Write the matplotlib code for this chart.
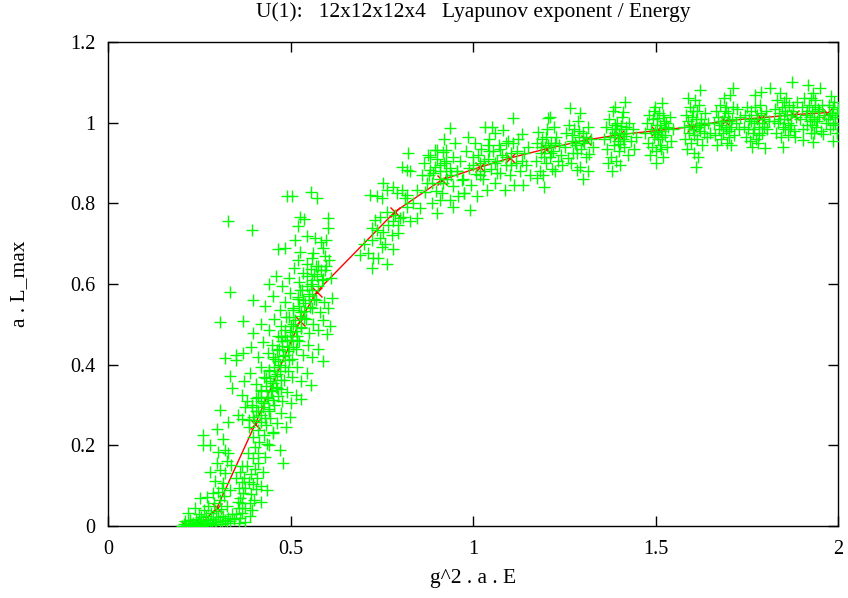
import matplotlib
matplotlib.use("Agg")
import matplotlib.pyplot as plt

plt.rcParams["font.family"] = ["Liberation Serif", "DejaVu Serif"]

TITLE = "U(1):   12x12x12x4   Lyapunov exponent / Energy"
X_LABEL = "g^2 . a . E"
Y_LABEL = "a . L_max"

x_ticks = [0, 0.5, 1, 1.5, 2]
x_tick_labels = ["0", "0.5", "1", "1.5", "2"]
y_ticks = [0, 0.2, 0.4, 0.6, 0.8, 1.0, 1.2]
y_tick_labels = ["0", "0.2", "0.4", "0.6", "0.8", "1", "1.2"]

# averaged curve (red)
line_x = [0.215, 0.255, 0.298, 0.403, 0.526, 0.572, 0.786, 0.914, 1.02, 1.10,
          1.20, 1.31, 1.40, 1.50, 1.60, 1.69, 1.79, 1.88, 1.97]
line_y = [0.0, 0.006, 0.044, 0.252, 0.508, 0.581, 0.779, 0.858, 0.89, 0.912,
          0.935, 0.957, 0.97, 0.98, 0.99, 1.005, 1.012, 1.02, 1.025]

# single runs (green)
base_pts = [
    (0.203, 0.000), (0.208, 0.004), (0.214, 0.001), (0.219, 0.006), (0.224, 0.002),
    (0.229, 0.000), (0.233, 0.008), (0.238, 0.003), (0.243, 0.001), (0.247, 0.010),
    (0.252, 0.004), (0.257, 0.000), (0.261, 0.012), (0.266, 0.006), (0.270, 0.002),
    (0.275, 0.015), (0.279, 0.008), (0.284, 0.003), (0.288, 0.018), (0.293, 0.010),
    (0.297, 0.004), (0.302, 0.022), (0.306, 0.013), (0.311, 0.006), (0.316, 0.026),
    (0.320, 0.015), (0.325, 0.008), (0.330, 0.020), (0.335, 0.012), (0.340, 0.030),
    (0.345, 0.018), (0.212, 0.012), (0.226, 0.015), (0.240, 0.018), (0.254, 0.022),
    (0.268, 0.026), (0.282, 0.032), (0.296, 0.038), (0.310, 0.042), (0.250, 0.030),
    (0.262, 0.040), (0.275, 0.050), (0.290, 0.058),
]
left_pts = [
    (0.220, 0.032), (0.238, 0.044), (0.252, 0.069), (0.270, 0.073), (0.288, 0.081),
    (0.307, 0.064), (0.334, 0.089), (0.293, 0.111), (0.316, 0.106), (0.279, 0.135),
    (0.307, 0.139), (0.320, 0.131), (0.298, 0.155), (0.325, 0.160), (0.338, 0.151),
    (0.352, 0.118), (0.302, 0.184), (0.320, 0.188), (0.261, 0.201), (0.279, 0.201),
    (0.261, 0.226), (0.298, 0.240), (0.315, 0.215), (0.330, 0.182), (0.300, 0.085),
    (0.318, 0.075), (0.325, 0.050), (0.312, 0.095),
]
column_pts = [
    (0.358, 0.008), (0.362, 0.020), (0.366, 0.032), (0.360, 0.045), (0.368, 0.058),
    (0.363, 0.070), (0.370, 0.083), (0.359, 0.095), (0.366, 0.108), (0.372, 0.120),
    (0.362, 0.133), (0.368, 0.150), (0.355, 0.060), (0.352, 0.030), (0.374, 0.010),
    (0.376, 0.045), (0.374, 0.095),
    (0.390, 0.024), (0.395, 0.040), (0.388, 0.058), (0.400, 0.065), (0.393, 0.080),
    (0.405, 0.092), (0.396, 0.105), (0.408, 0.118), (0.392, 0.130), (0.402, 0.142),
    (0.410, 0.155), (0.397, 0.168), (0.412, 0.180), (0.404, 0.195), (0.415, 0.208),
    (0.398, 0.220), (0.420, 0.100), (0.425, 0.135), (0.418, 0.060), (0.430, 0.170),
    (0.435, 0.090), (0.440, 0.200), (0.428, 0.225), (0.383, 0.180), (0.380, 0.150),
    (0.385, 0.110), (0.471, 0.188), (0.480, 0.155), (0.435, 0.204), (0.453, 0.230),
]
band_pts = [
    (0.330, 0.258), (0.357, 0.275), (0.375, 0.296), (0.368, 0.265), (0.385, 0.245),
    (0.400, 0.262), (0.412, 0.238), (0.420, 0.275), (0.432, 0.250), (0.445, 0.268),
    (0.452, 0.232), (0.463, 0.255), (0.475, 0.280), (0.488, 0.246), (0.498, 0.270),
    (0.440, 0.290), (0.405, 0.285),
    (0.307, 0.287), (0.339, 0.341), (0.368, 0.325), (0.380, 0.310), (0.395, 0.300),
    (0.410, 0.320), (0.418, 0.335), (0.428, 0.305), (0.437, 0.318), (0.448, 0.338),
    (0.455, 0.300), (0.466, 0.322), (0.478, 0.310), (0.490, 0.332), (0.502, 0.305),
    (0.515, 0.325), (0.530, 0.315), (0.460, 0.345),
    (0.334, 0.372), (0.352, 0.412), (0.320, 0.416), (0.352, 0.424), (0.372, 0.360),
    (0.388, 0.380), (0.405, 0.352), (0.420, 0.395), (0.432, 0.368), (0.442, 0.385),
    (0.452, 0.355), (0.462, 0.378), (0.472, 0.398), (0.482, 0.362), (0.492, 0.385),
    (0.505, 0.370), (0.518, 0.395), (0.530, 0.360), (0.545, 0.380), (0.555, 0.350),
    (0.475, 0.340),
    (0.371, 0.430), (0.392, 0.445), (0.410, 0.420), (0.425, 0.455), (0.438, 0.428),
    (0.448, 0.448), (0.458, 0.415), (0.468, 0.440), (0.478, 0.458), (0.486, 0.425),
    (0.495, 0.445), (0.505, 0.415), (0.514, 0.438), (0.524, 0.458), (0.535, 0.425),
    (0.548, 0.448), (0.560, 0.418), (0.575, 0.440), (0.590, 0.410), (0.500, 0.460),
]
band_core_pts = [
    (0.385, 0.262), (0.398, 0.270), (0.418, 0.259), (0.430, 0.268),
    (0.395, 0.294), (0.410, 0.286), (0.425, 0.296), (0.442, 0.284),
    (0.405, 0.318), (0.420, 0.310), (0.436, 0.321), (0.452, 0.312),
    (0.418, 0.336), (0.432, 0.346), (0.447, 0.334), (0.463, 0.343),
    (0.428, 0.369), (0.445, 0.360), (0.458, 0.371), (0.474, 0.362),
    (0.440, 0.386), (0.455, 0.395), (0.470, 0.384), (0.486, 0.394),
    (0.452, 0.419), (0.466, 0.410), (0.480, 0.421), (0.496, 0.412),
    (0.462, 0.436), (0.478, 0.446), (0.492, 0.434), (0.508, 0.444),
    (0.474, 0.469), (0.490, 0.460), (0.503, 0.471), (0.519, 0.462),
    (0.486, 0.486), (0.500, 0.495), (0.515, 0.484), (0.530, 0.494),
    (0.496, 0.519), (0.512, 0.510), (0.527, 0.521), (0.542, 0.512),
    (0.508, 0.536), (0.523, 0.545), (0.538, 0.534), (0.553, 0.544),
    (0.520, 0.569), (0.535, 0.560), (0.550, 0.571), (0.565, 0.562),
    (0.532, 0.586), (0.546, 0.595), (0.560, 0.584), (0.576, 0.594),
    (0.545, 0.619), (0.558, 0.610), (0.572, 0.621), (0.588, 0.612),
    (0.556, 0.636), (0.570, 0.645), (0.584, 0.634), (0.598, 0.644),
]
upper_pts = [
    (0.307, 0.507), (0.371, 0.508), (0.398, 0.478), (0.420, 0.500), (0.440, 0.485),
    (0.455, 0.512), (0.465, 0.472), (0.475, 0.495), (0.488, 0.518), (0.498, 0.480),
    (0.508, 0.502), (0.518, 0.470), (0.528, 0.492), (0.538, 0.515), (0.550, 0.478),
    (0.562, 0.500), (0.575, 0.485), (0.588, 0.510), (0.600, 0.475), (0.608, 0.495),
    (0.485, 0.470),
    (0.334, 0.581), (0.398, 0.560), (0.430, 0.545), (0.452, 0.570), (0.470, 0.535),
    (0.485, 0.555), (0.498, 0.578), (0.508, 0.540), (0.520, 0.562), (0.530, 0.530),
    (0.540, 0.552), (0.550, 0.575), (0.560, 0.540), (0.570, 0.560), (0.580, 0.530),
    (0.592, 0.555), (0.604, 0.540), (0.615, 0.565), (0.525, 0.585),
    (0.440, 0.600), (0.460, 0.620), (0.478, 0.595), (0.495, 0.615), (0.510, 0.640),
    (0.522, 0.605), (0.535, 0.628), (0.545, 0.650), (0.555, 0.600), (0.565, 0.625),
    (0.575, 0.645), (0.585, 0.610), (0.595, 0.635), (0.605, 0.660), (0.612, 0.615),
    (0.520, 0.660), (0.560, 0.665),
    (0.466, 0.686), (0.485, 0.690), (0.512, 0.710), (0.526, 0.679), (0.545, 0.720),
    (0.563, 0.676), (0.567, 0.713), (0.584, 0.705), (0.598, 0.709), (0.590, 0.690),
    (0.604, 0.740), (0.520, 0.745), (0.538, 0.760), (0.526, 0.767), (0.604, 0.763),
    (0.330, 0.755), (0.394, 0.734), (0.490, 0.817), (0.503, 0.817), (0.555, 0.829),
    (0.572, 0.812), (0.595, 0.670),
]
mid_pts = [
    (0.690, 0.672), (0.722, 0.639), (0.764, 0.650), (0.713, 0.676), (0.727, 0.664),
    (0.741, 0.664), (0.750, 0.692), (0.781, 0.688), (0.722, 0.709), (0.745, 0.713),
    (0.722, 0.738), (0.736, 0.734), (0.754, 0.730), (0.777, 0.722), (0.795, 0.726),
    (0.731, 0.759), (0.745, 0.767), (0.764, 0.779), (0.787, 0.771), (0.800, 0.763),
    (0.795, 0.746), (0.768, 0.746), (0.782, 0.755), (0.809, 0.767), (0.827, 0.755),
    (0.846, 0.764), (0.855, 0.788), (0.818, 0.792), (0.814, 0.812), (0.718, 0.821),
    (0.736, 0.817), (0.750, 0.812), (0.754, 0.850), (0.764, 0.833), (0.782, 0.841),
    (0.791, 0.825), (0.805, 0.833), (0.818, 0.821), (0.846, 0.833), (0.805, 0.891),
    (0.818, 0.883), (0.827, 0.879), (0.823, 0.924), (0.700, 0.700), (0.760, 0.700),
    (0.835, 0.800),
    (0.873, 0.850), (0.882, 0.915), (0.900, 0.932), (0.891, 0.875), (0.909, 0.895),
    (0.878, 0.920), (0.896, 0.932), (0.918, 0.928), (0.937, 0.986), (0.927, 0.932),
    (0.882, 0.883), (0.909, 0.879), (0.937, 0.887), (0.955, 0.879), (0.887, 0.850),
    (0.918, 0.850), (0.946, 0.842), (0.969, 0.858), (0.887, 0.800), (0.909, 0.808),
    (0.937, 0.808), (0.960, 0.817), (0.900, 0.776), (0.946, 0.792), (0.869, 0.829),
    (0.974, 0.825), (0.860, 0.870), (0.925, 0.905), (0.945, 0.915), (0.865, 0.900),
    (0.930, 0.860), (0.898, 0.830), (0.915, 0.825), (0.950, 0.950), (0.920, 0.960),
    (0.880, 0.870), (0.895, 0.890), (0.910, 0.860), (0.925, 0.880), (0.940, 0.870),
    (0.900, 0.910), (0.920, 0.900),
]
knee_pts = [
    (0.955, 0.880), (0.965, 0.905), (0.972, 0.860), (0.980, 0.930), (0.985, 0.965),
    (0.990, 0.888), (0.995, 0.845), (1.000, 0.915), (1.005, 0.950), (1.009, 0.873),
    (1.012, 0.817), (1.018, 0.900), (1.022, 0.935), (1.028, 0.860), (1.033, 0.990),
    (1.037, 0.833), (1.040, 0.910), (1.045, 0.960), (1.050, 0.885), (1.051, 0.990),
    (1.055, 0.930), (1.060, 0.850), (1.065, 0.905), (1.070, 0.945), (1.075, 0.875),
    (1.080, 0.920), (1.083, 0.982), (1.087, 0.833), (1.090, 0.895), (1.095, 0.955),
    (1.100, 0.870), (1.105, 0.925), (1.110, 1.011), (1.112, 0.845), (1.118, 0.900),
    (1.122, 0.960), (1.128, 0.880), (1.133, 0.973), (1.138, 0.846), (1.140, 0.925),
    (1.146, 0.895), (1.152, 0.940), (1.157, 0.870), (0.992, 0.784), (0.975, 0.825),
    (1.060, 0.975), (1.030, 0.880),
    (1.000, 0.895), (1.015, 0.920), (1.030, 0.905), (1.045, 0.930), (1.060, 0.900),
    (1.075, 0.935), (1.090, 0.915), (1.105, 0.895), (1.120, 0.930), (1.135, 0.905),
    (1.020, 0.870), (1.065, 0.875), (1.110, 0.950), (1.090, 0.950), (1.040, 0.945),
    (1.172, 0.905), (1.176, 0.950), (1.179, 0.978), (1.183, 0.880), (1.187, 0.925),
    (1.190, 0.960), (1.193, 0.870), (1.197, 0.940), (1.200, 0.900), (1.204, 0.985),
    (1.206, 1.011), (1.210, 0.915), (1.213, 0.950), (1.216, 0.885), (1.220, 0.930),
    (1.225, 0.879), (1.228, 0.965), (1.232, 0.905), (1.236, 0.945), (1.240, 0.920),
    (1.245, 0.895), (1.174, 0.862), (1.195, 0.840), (1.210, 1.015), (1.222, 0.990),
    (1.185, 0.940), (1.195, 0.915), (1.205, 0.945), (1.215, 0.925), (1.225, 0.950),
    (1.200, 0.965),
    (1.252, 0.940), (1.256, 0.975), (1.261, 0.912), (1.264, 0.995), (1.266, 1.036),
    (1.270, 0.955), (1.274, 0.925), (1.278, 0.985), (1.282, 0.945), (1.284, 0.883),
    (1.287, 1.005), (1.290, 0.965), (1.293, 0.891), (1.293, 1.023), (1.297, 0.935),
    (1.300, 0.975), (1.305, 0.950), (1.310, 0.915), (1.314, 0.990), (1.319, 0.923),
    (1.323, 0.960), (1.328, 0.940), (1.268, 0.900), (1.300, 0.860), (1.315, 0.880),
    (1.270, 0.970), (1.280, 0.950), (1.290, 0.980), (1.300, 0.955), (1.310, 0.965),
    (1.285, 0.925),
]
plateau_pts = [
    (1.360, 0.960), (1.365, 0.990), (1.368, 0.935), (1.372, 1.010), (1.375, 0.965),
    (1.378, 0.915), (1.380, 0.985), (1.383, 1.030), (1.386, 0.945), (1.389, 1.040),
    (1.390, 0.975), (1.393, 0.905), (1.395, 1.000), (1.398, 0.955), (1.400, 0.930),
    (1.403, 0.895), (1.405, 0.985), (1.408, 1.015), (1.410, 0.960), (1.412, 1.027),
    (1.415, 0.940), (1.416, 1.052), (1.420, 0.975), (1.424, 0.920), (1.428, 1.000),
    (1.432, 0.955), (1.437, 0.985), (1.442, 0.935), (1.447, 0.965), (1.380, 0.880),
    (1.370, 0.900),
    (1.385, 0.965), (1.392, 0.985), (1.399, 0.972), (1.406, 0.992), (1.413, 0.968),
    (1.388, 0.995), (1.402, 0.948), (1.418, 0.990),
    (1.472, 0.975), (1.476, 1.000), (1.479, 0.950), (1.482, 1.020), (1.485, 0.920),
    (1.488, 0.985), (1.490, 0.940), (1.493, 1.010), (1.496, 0.965), (1.499, 1.040),
    (1.502, 0.930), (1.505, 0.995), (1.508, 0.960), (1.510, 1.025), (1.513, 0.945),
    (1.516, 0.980), (1.518, 1.048), (1.521, 0.915), (1.524, 1.005), (1.527, 0.970),
    (1.531, 0.940), (1.535, 0.990), (1.539, 1.015), (1.543, 0.955), (1.548, 0.985),
    (1.500, 0.900), (1.515, 0.935), (1.495, 1.030),
    (1.498, 0.978), (1.505, 0.972), (1.512, 0.995), (1.519, 0.965), (1.526, 0.988),
    (1.503, 1.012), (1.520, 1.020), (1.530, 1.000),
    (1.577, 0.990), (1.580, 0.960), (1.583, 1.020), (1.586, 0.935), (1.589, 1.005),
    (1.592, 0.975), (1.595, 1.040), (1.598, 0.950), (1.600, 1.015), (1.603, 0.985),
    (1.606, 0.925), (1.608, 1.055), (1.610, 0.995), (1.613, 0.960), (1.615, 1.030),
    (1.617, 0.916), (1.622, 1.081), (1.622, 0.980), (1.625, 1.010), (1.628, 0.945),
    (1.632, 0.995), (1.636, 1.025), (1.640, 0.965), (1.645, 1.000), (1.648, 0.975),
    (1.590, 1.060), (1.612, 0.890),
    (1.598, 0.995), (1.605, 0.970), (1.612, 1.010), (1.619, 0.990), (1.626, 1.000),
    (1.603, 1.030), (1.618, 1.045), (1.633, 0.975),
    (1.660, 1.000), (1.663, 0.970), (1.665, 1.030), (1.668, 0.945), (1.671, 1.015),
    (1.674, 0.985), (1.677, 1.045), (1.680, 0.960), (1.683, 1.005), (1.686, 0.975),
    (1.689, 1.060), (1.692, 0.990), (1.695, 0.950), (1.698, 1.025), (1.701, 0.980),
    (1.704, 1.069), (1.706, 0.945), (1.709, 1.010), (1.713, 1.085), (1.716, 0.970),
    (1.720, 1.000), (1.724, 1.035), (1.728, 0.985), (1.731, 1.015), (1.694, 1.040),
    (1.680, 0.995), (1.687, 1.015), (1.694, 0.985), (1.701, 1.005), (1.708, 0.990),
    (1.690, 1.028), (1.712, 1.040), (1.700, 0.965),
    (1.742, 0.990), (1.745, 1.020), (1.748, 0.965), (1.751, 1.040), (1.754, 0.985),
    (1.757, 1.010), (1.760, 0.955), (1.763, 1.030), (1.766, 0.975), (1.769, 1.000),
    (1.772, 1.069), (1.775, 0.960), (1.778, 1.020), (1.781, 0.949), (1.784, 0.990),
    (1.787, 1.045), (1.790, 1.077), (1.793, 0.975), (1.796, 1.010), (1.799, 0.937),
    (1.802, 1.030), (1.806, 0.985), (1.810, 1.005), (1.813, 1.085), (1.765, 0.940),
    (1.762, 1.005), (1.770, 0.985), (1.777, 1.010), (1.784, 0.970), (1.791, 1.000),
    (1.772, 1.040), (1.788, 1.025), (1.798, 0.990),
    (1.824, 1.005), (1.827, 1.035), (1.830, 0.975), (1.833, 1.055), (1.836, 1.000),
    (1.839, 1.025), (1.841, 1.073), (1.844, 0.965), (1.847, 1.040), (1.850, 0.940),
    (1.852, 1.010), (1.855, 0.985), (1.858, 1.060), (1.861, 1.020), (1.864, 0.970),
    (1.867, 1.045), (1.870, 0.995), (1.873, 1.101), (1.876, 1.030), (1.879, 0.980),
    (1.882, 0.965), (1.885, 1.015), (1.887, 1.050),
    (1.842, 1.010), (1.849, 0.990), (1.856, 1.030), (1.863, 1.000), (1.870, 1.020),
    (1.852, 1.050), (1.868, 0.985), (1.878, 1.040),
    (1.897, 1.010), (1.900, 1.040), (1.903, 0.985), (1.905, 0.957), (1.908, 1.060),
    (1.911, 1.020), (1.914, 0.995), (1.918, 1.093), (1.921, 1.045), (1.924, 1.005),
    (1.927, 0.975), (1.930, 1.030), (1.932, 1.073), (1.932, 0.953), (1.935, 1.010),
    (1.938, 1.055), (1.941, 0.990), (1.944, 1.035), (1.947, 1.015), (1.950, 1.085),
    (1.953, 0.980), (1.956, 1.045), (1.959, 0.973), (1.963, 1.020), (1.967, 1.000),
    (1.915, 1.030), (1.922, 1.015), (1.929, 0.995), (1.936, 1.040), (1.943, 1.005),
    (1.926, 1.060), (1.948, 1.030), (1.934, 0.975),
    (1.972, 1.010), (1.975, 1.045), (1.978, 0.985), (1.981, 1.065), (1.984, 1.025),
    (1.987, 0.995), (1.990, 1.050), (1.993, 1.015), (1.996, 0.975), (1.999, 1.035),
    (1.985, 0.955), (1.978, 1.020), (1.985, 1.040), (1.992, 1.000), (1.996, 1.025),
]

point_groups = [base_pts, left_pts, column_pts, band_pts, band_core_pts,
                upper_pts, mid_pts, knee_pts, plateau_pts]


def main() -> None:
    fig = plt.figure(figsize=(8.48, 5.98), dpi=100)
    ax = fig.add_axes([108 / 848, 72 / 598, 730 / 848, 484 / 598])

    ax.plot(line_x, line_y, color="#ff0000", lw=1, marker="x", ms=7, mew=1,
            zorder=2)
    for pts in point_groups:
        xs, ys = zip(*pts)
        ax.plot(xs, ys, ls="none", marker="+", ms=8, mew=1, color="#00ff00",
                zorder=3)

    ax.set_xlim(0, 2)
    ax.set_ylim(0, 1.2)
    ax.set_xticks(x_ticks, x_tick_labels)
    ax.set_yticks(y_ticks, y_tick_labels)
    ax.tick_params(direction="in", top=True, right=True, length=7, width=1,
                   labelsize=14.5)
    ax.tick_params(axis="x", pad=10)
    ax.tick_params(axis="y", pad=9)
    for spine in ax.spines.values():
        spine.set_linewidth(1)

    fig.text(473 / 848, 1 - 12 / 598, TITLE, ha="center", va="center",
             fontsize=15.5)
    fig.text(473 / 848, 1 - 578 / 598, X_LABEL, ha="center", va="center",
             fontsize=15.5)
    fig.text(20 / 848, 1 - 284 / 598, Y_LABEL, ha="center", va="center",
             rotation=90, fontsize=15.5)

    fig.savefig("out.png", dpi=100)
    plt.close(fig)


if __name__ == "__main__":
    main()
